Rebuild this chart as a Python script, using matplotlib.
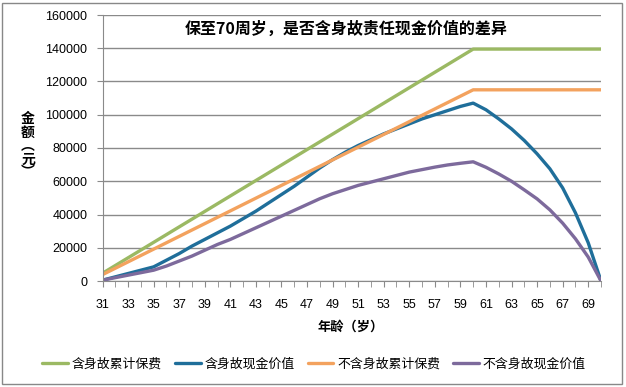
import matplotlib
matplotlib.use("Agg")
import matplotlib.pyplot as plt
from matplotlib.patches import Rectangle
from matplotlib.ticker import MultipleLocator

plt.rcParams['font.family'] = ['Noto Sans CJK SC', 'DejaVu Sans']

ages = list(range(31, 71))
premium_with_death = [4650, 9300, 13950, 18600, 23250, 27900, 32550, 37200, 41850, 46500,
                      51150, 55800, 60450, 65100, 69750, 74400, 79050, 83700, 88350, 93000,
                      97650, 102300, 106950, 111600, 116250, 120900, 125550, 130200, 134850, 139500,
                      139500, 139500, 139500, 139500, 139500, 139500, 139500, 139500, 139500, 139500]
cash_with_death = [500, 2500, 4500, 6500, 8500, 12500, 16500, 21000, 25000, 29000,
                   33000, 37500, 42000, 47000, 52000, 57000, 62500, 68000, 73000, 77500,
                   81500, 85000, 88500, 91500, 94500, 97500, 100000, 102500, 105000, 107000,
                   103000, 97500, 91500, 84500, 76500, 67500, 56000, 41000, 23000, 0]
premium_without_death = [3833, 7667, 11500, 15333, 19167, 23000, 26833, 30667, 34500, 38333,
                         42167, 46000, 49833, 53667, 57500, 61333, 65167, 69000, 72833, 76667,
                         80500, 84333, 88167, 92000, 95833, 99667, 103500, 107333, 111167, 115000,
                         115000, 115000, 115000, 115000, 115000, 115000, 115000, 115000, 115000, 115000]
cash_without_death = [500, 2000, 3500, 5000, 6500, 9000, 12000, 15000, 18500, 22000,
                      25000, 28500, 32000, 35500, 39000, 42500, 46000, 49500, 52500, 55000,
                      57500, 59500, 61500, 63500, 65500, 67000, 68500, 69800, 70800, 71700,
                      68400, 64400, 60000, 54800, 49400, 42800, 34800, 25400, 14400, 0]

series_names = ['含身故累计保费', '含身故现金价值', '不含身故累计保费', '不含身故现金价值']
colors = ['#9BB963', '#1F6E9A', '#F3A25E', '#7D6A9C']

fig = plt.figure(figsize=(6.26, 3.87), dpi=100)
fig.patches.append(Rectangle((2/626, 3/387), 620/626, 381/387, transform=fig.transFigure,
                             fill=False, edgecolor='#888888', linewidth=1.0))
ax = fig.add_axes([102.5/626, 1-281/387, 498.5/626, 266/387])

for vals, c, n in zip([premium_with_death, cash_with_death, premium_without_death, cash_without_death],
                      colors, series_names):
    ax.plot(ages, vals, color=c, linewidth=2.4, label=n, solid_capstyle='round')

ax.set_xlim(31, 70)
ax.set_ylim(0, 160000)
ax.set_yticks(range(0, 160001, 20000))
ax.set_xticks(range(31, 70, 2))
ax.xaxis.set_minor_locator(MultipleLocator(1))
ax.grid(axis='y', color='#8a8a8a', linewidth=1.0)
ax.set_axisbelow(True)
for s in ['top', 'right']:
    ax.spines[s].set_visible(False)
ax.spines['left'].set_color('#8a8a8a')
ax.spines['bottom'].set_color('#8a8a8a')
ax.tick_params(axis='y', length=4, color='#8a8a8a', labelsize=9, pad=7,
               labelfontfamily='Liberation Sans')
ax.tick_params(axis='x', which='both', length=4, color='#8a8a8a', labelsize=9, pad=9,
               labelfontfamily='Liberation Sans')

ax.text((346 - 102.5) / 498.5, 1 - (28.5 - 15) / 266, '保至70周岁，是否含身故责任现金价值的差异',
        transform=ax.transAxes, ha='center', va='center', fontsize=11.5, fontweight='bold')
fig.text(28/626, 1-146/387, '金\n额\n︵\n元\n︶', ha='center', va='center',
         fontsize=10, fontweight='bold', linespacing=0.95)
fig.text(351/626, 1-326.5/387, '年龄（岁）', ha='center', va='center', fontsize=9.5, fontweight='bold')

fig.legend(loc='center', bbox_to_anchor=(314/626, 1-364/387), ncol=4, frameon=False,
           fontsize=9.3, handlelength=2.0, columnspacing=1.0, handletextpad=0.3)

fig.savefig('out.png', dpi=100)
